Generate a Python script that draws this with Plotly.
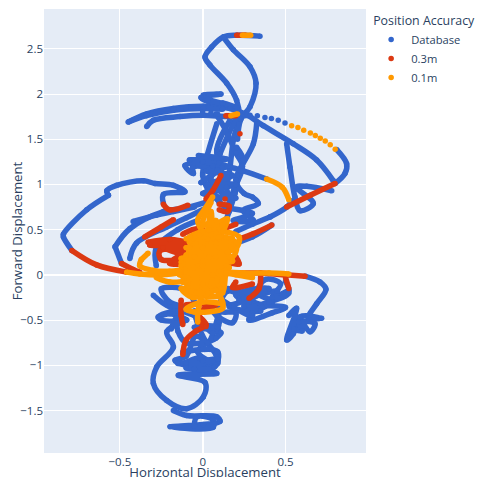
import plotly.graph_objects as go

blue_paths = [
    [(.346,2.64),(.205,2.65),(.125,2.63),(.054,2.52),(.014,2.41),(.044,2.32),(.145,2.12),(.205,1.93),(.22,1.76),(.185,1.49),(.165,1.19),(.145,.97)],
    [(.125,2.63),(.185,2.49),(.286,2.30),(.322,2.12),(.286,1.86),(.23,1.72),(.21,1.5)],
    [(-.449,1.69),(-.338,1.78),(-.177,1.84),(.004,1.865),(.165,1.84),(.266,1.77),(.366,1.65),(.547,1.45),(.688,1.27),(.789,1.04)],
    [(-.449,1.69),(-.34,1.76),(-.177,1.82),(.004,1.84),(.12,1.83)],
    [(-.338,1.64),(-.298,1.71),(-.137,1.75),(.004,1.765),(.165,1.75),(.286,1.765)],
    [(.809,1.385),(.869,1.23),(.859,1.12),(.799,1.01)],
    [(.386,1.06),(.245,1.15),(.165,1.19),(.06,1.2)],
    [(.406,.64),(.507,.75),(.54,.82)],
    [(.417,.55),(.3,.42),(.2,.35)],
    [(.004,1.99),(.11,2.0),(-.01,1.96),(.03,1.92),(.12,1.9),(.205,1.85),(.03,1.94)],
    [(.085,1.67),(.024,1.30),(.0,1.1),(.06,.85)],
    [(.205,1.75),(.105,1.34),(.05,1.05),(.1,.8)],
    [(.165,1.71),(.085,1.38),(.12,1.1),(.17,.8)],
    [(.08,1.78),(.14,1.6),(.2,1.35),(.24,1.2),(.19,.95),(.15,.75)],
    [(.326,1.67),(.306,1.45),(.225,1.155),(.195,.9),(.14,.6)],
    [(.507,1.45),(.527,1.19),(.557,.86),(.588,.71),(.668,.79),(.567,.97),(.628,.98),(.779,.93)],
    [(.205,1.41),(.245,1.27),(.2,1.05),(.25,.9),(.3,.86),(.336,.79),(.245,.71),(.306,.6),(.185,.6),(.3,.68),(.14,.74)],
    [(-.026,1.32),(.145,1.28),(-.08,1.27),(.1,1.24),(-.107,1.21),(-.056,1.12),(-.06,1.19),(.09,1.16),(-.01,1.02),(.05,1.1)],
    [(.0,1.25),(.15,1.2),(.02,1.15),(.18,1.1),(.03,1.0),(.2,1.0),(.0,.9),(.2,.85),(.04,.95),(.16,.7)],
    [(-.569,.88),(-.579,.93),(-.519,.99),(-.358,1.04),(-.288,1.01),(-.177,.99),(-.107,.92),(-.237,.89),(-.237,.79)],
    [(-.569,.88),(-.7,.72),(-.841,.45),(-.841,.42),(-.79,.27)],
    [(-.529,.31),(-.44,.51),(-.237,.70),(-.1,.74),(.05,.82)],
    [(-.49,.126),(-.529,.31)],
    [(-.42,.59),(-.28,.66),(-.177,.7),(-.05,.75)],
    [(-.44,.18),(-.4,.35),(-.217,.53),(-.1,.63),(.02,.74)],
    [(-.28,.1),(-.28,.3),(-.15,.5),(-.03,.6)],
    [(.406,.64),(.3,.56),(.2,.48)],
    [(.618,-.015),(.708,-.08),(.744,-.16),(.688,-.32),(.638,-.48),(.718,-.48),(.588,-.465),(.547,-.65),(.507,-.72),(.567,-.37),(.52,-.45)],
    [(.588,-.465),(.648,-.63),(.678,-.54),(.58,-.52),(.6,-.62),(.55,-.6)],
    [(.52,-.17),(.42,-.25),(.47,-.1),(.38,-.05),(.33,-.2),(.42,-.3),(.3,-.42),(.28,-.5),(.42,-.42),(.5,-.36),(.35,-.33),(.25,-.25),(.15,-.18),(.1,-.4),(.2,-.42),(.18,-.53),(.1,-.47),(.05,-.35)],
    [(.5,-.07),(.52,-.2),(.4,-.3),(.25,-.35),(.3,-.15),(.22,-.28),(.45,-.18),(.36,-.36)],
    [(.15,-.15),(.3,-.25),(.16,-.35),(.35,-.4),(.2,-.22),(.4,-.15),(.28,-.3),(.3,-.45),(.12,-.28)],
    [(-.298,-.225),(-.197,-.355),(-.1,-.36),(-.2,-.3),(-.25,-.155),(-.1,-.17),(-.05,-.3)],
    [(-.268,-.465),(-.197,-.43),(-.097,-.50),(-.25,-.5),(-.268,-.465),(-.15,-.4),(-.05,-.45)],
    [(-.097,-.50),(-.217,-.63),(-.177,-.80),(-.278,-1.02),(-.298,-1.20),(-.217,-1.39),(-.097,-1.48),(.004,-1.35),(.014,-1.19),(-.147,-1.11),(.085,-1.09),(-.05,-1.04)],
    [(-.19,-.6),(-.16,-.48),(-.15,-.62),(-.1,-.75),(.08,-.7),(.09,-.58),(-.05,-.58),(.11,-.64),(-.03,-.85),(.09,-.98),(.08,-.88),(-.04,-.68),(-.1,-.9),(-.167,-.945),(-.1,-1.0),(.08,-1.0),(-.02,-.92),(-.1,-.97)],
    [(-.15,-.98),(.0,-.95),(.09,-.93),(-.1,-1.03),(.07,-1.02),(.09,-.85),(-.12,-.85)],
    [(-.177,-1.5),(-.097,-1.555),(.085,-1.57),(.105,-1.62),(.004,-1.655),(-.197,-1.68),(.064,-1.685),(.06,-1.6),(-.036,-1.57),(-.05,-1.67)],
    [(.0,-.3),(.1,-.52),(.06,-.64),(-.05,-.4),(.03,-.75),(.1,-.4)],
]
blue_dots = [(.33,1.76),(.376,1.74),(.415,1.73),(.456,1.71),(.497,1.68),(.0,1.8),(.05,1.79),(.09,1.78),(-.1,1.85)]

red_paths = [
    [(.205,2.65),(.26,2.65)],
    [(.14,1.76),(.2,1.76)],
    [(.799,1.01),(.65,.88),(.507,.75)],
    [(.11,1.1),(.06,.93),(.02,.84)],
    [(-.237,.78),(-.2,.72),(-.09,.77)],
    [(.1,.78),(.16,.76),(.15,.7),(.1,.72)],
    [(-.35,.42),(-.25,.53),(-.177,.61)],
    [(-.12,.45),(-.06,.5),(.0,.52)],
    [(.14,.6),(.06,.48),(.2,.56)],
    [(.417,.55),(.3,.45),(.24,.41)],
    [(-.79,.27),(-.64,.11),(-.459,.03)],
    [(-.49,.126),(-.42,.06),(-.38,.03)],
    [(-.33,.36),(-.2,.39),(-.1,.36),(-.32,.33),(-.1,.3),(-.26,.26),(-.25,.17),(-.1,.2),(-.24,.3),(-.1,.27),(-.2,.13),(-.1,.12)],
    [(.22,.02),(.35,.02),(.5,0),(.618,-.015)],
    [(.5,-.03),(.52,-.15)],
    [(.35,-.02),(.34,-.15),(.28,-.26)],
    [(.2,-.08),(.18,-.14),(.3,-.1)],
    [(.2,.2),(.22,.12),(.15,.14)],
    [(-.13,-.28),(-.13,-.45),(-.12,-.55)],
    [(-.1,-.33),(.08,-.33),(-.03,-.42),(.02,-.55),(-.04,-.62),(-.1,-.72),(-.12,-.88)],
    [(-.02,-.52),(.02,-.57)],
]
red_dots = [(.225,1.56),(.135,.84)]

orange_paths = [
    [(.24,2.65),(.29,2.65)],
    [(.17,1.76),(.21,1.78)],
    [(.386,1.06),(.48,.97),(.52,.83)],
    [(.06,.86),(.01,.72),(-.03,.6),(.02,.45),(.05,.7),(.07,.5),(.14,.58),(.1,.4),(.15,.62),(.04,.5)],
    [(.05,.8),(.0,.55),(.08,.6),(.03,.4),(.12,.55),(.08,.35)],
    [(-.08,.42),(.0,.48),(.12,.48),(.22,.42),(.2,.3),(.08,.46),(-.08,.36),(.2,.36),(.18,.2),(-.1,.3),(.15,.25),(-.13,.18),(.18,.15),(.05,.35),(-.03,.1),(.1,.3),(.14,.0)],
    [(-.13,.14),(.0,.3),(.14,.1),(-.14,.04),(.08,.2),(.12,-.1),(-.12,-.02),(.0,.15),(.13,-.02),(-.05,-.2),(.1,-.12),(-.1,.05),(.05,-.2),(-.05,.2),(.02,-.1)],
    [(-.1,.4),(.18,.4),(-.08,.3),(.2,.28),(-.1,.22),(.16,.2),(-.13,.1),(.16,.08),(-.14,.0),(.14,.0),(-.12,-.08),(.12,-.06),(-.1,-.14),(.1,-.16),(-.08,-.22),(.1,-.24)],
    [(-.02,.44),(.0,.1),(.05,.44),(.06,.0),(.1,.42),(.1,.0),(.14,.42),(.12,-.2),(.04,.2),(.02,-.22),(-.04,.35),(-.04,-.2),(-.08,.3),(-.09,-.15)],
    [(-.459,.03),(-.38,.01),(-.25,0),(-.1,.03)],
    [(-.37,.17),(-.38,.1),(-.3,.05),(-.2,.04),(-.05,.08)],
    [(-.28,-.03),(-.2,-.08),(-.08,-.05),(-.15,.02)],
    [(-.37,.17),(-.33,.24)],
    [(.1,.04),(.25,.02),(.4,.02),(.52,.01)],
    [(.14,.02),(.3,-.03),(.2,.0)],
    [(.0,-.1),(.03,-.2),(-.07,-.18),(-.13,-.15),(-.06,-.25),(.08,-.17),(.1,-.22),(.12,-.3),(.12,-.37),(-.05,-.41),(-.1,-.38),(.0,-.3),(.12,-.32)],
    [(-.01,-.25),(-.03,-.42),(-.03,-.52)],
]
orange_dots = [(.537,1.65),(.575,1.63),(.61,1.6),(.65,1.57),(.68,1.54),(.71,1.51),(.74,1.48),(.77,1.44),(.8,1.39)]

series = [
    ("Database", "#3366CC", blue_paths, blue_dots),
    ("0.3m", "#DC3912", red_paths, red_dots),
    ("0.1m", "#FF9900", orange_paths, orange_dots),
]

fig = go.Figure()
for name, color, paths, dots in series:
    xs, ys = [], []
    for p in paths:
        xs += [q[0] for q in p] + [None]
        ys += [q[1] for q in p] + [None]
    fig.add_trace(go.Scatter(x=xs, y=ys, mode="lines", showlegend=False, hoverinfo="skip",
                             line=dict(color=color, width=5.5, shape="spline", smoothing=1.0)))
    fig.add_trace(go.Scatter(x=xs + [d[0] for d in dots], y=ys + [d[1] for d in dots], mode="markers",
                             name=name, marker=dict(color=color, size=5.5)))

fig.update_layout(
    width=540, height=473, autosize=False,
    margin=dict(l=36, r=182, t=1, b=28, pad=0),
    font=dict(size=11.5),
    legend=dict(title=dict(text="Position Accuracy", font=dict(size=12.4)), font=dict(size=11.2),
                x=1.016, y=1.0, tracegroupgap=0),
    xaxis=dict(title=dict(text="Horizontal Displacement", font=dict(size=13.2)), range=[-.958, .986],
               automargin=False, tickvals=[-.5, 0, .5], ticktext=["−0.5", "0", "0.5"]),
    yaxis=dict(title=dict(text="Forward Displacement", font=dict(size=13.2)), range=[-1.97, 2.94], automargin=False,
               tickvals=[-1.5, -1, -.5, 0, .5, 1, 1.5, 2, 2.5],
               ticktext=["−1.5", "−1", "−0.5", "0", "0.5", "1", "1.5", "2", "2.5"]),
)
fig.write_html("out.html")
